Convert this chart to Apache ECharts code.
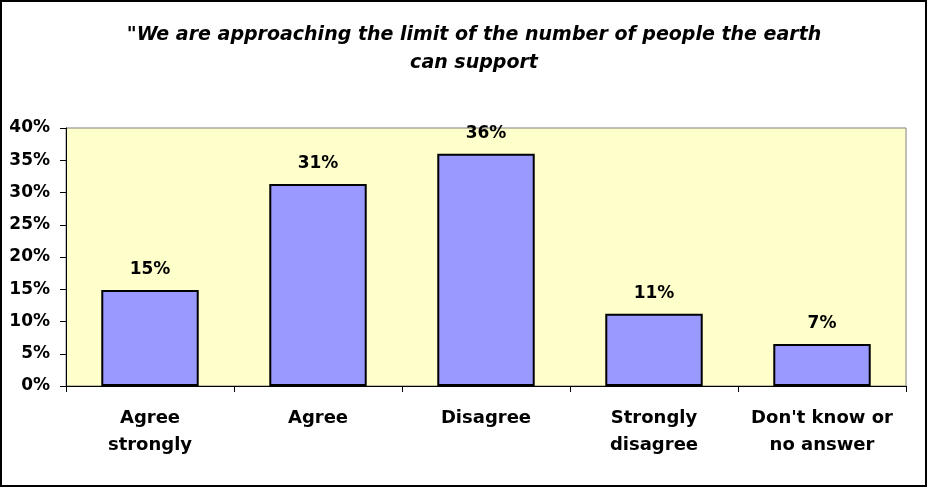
<!DOCTYPE html>
<html>
<head>
<meta charset="utf-8">
<script src="https://cdn.jsdelivr.net/npm/echarts@6/dist/echarts.min.js"></script>
<style>
  html, body { margin: 0; padding: 0; background: #fff; }
  #chart { width: 928px; height: 488px; }
</style>
</head>
<body>
<div id="chart"></div>
<script>
// data
const categories = ['Agree\nstrongly', 'Agree', 'Disagree', 'Strongly\ndisagree', "Don't know or\nno answer"]
const shares = [14.9, 31.3, 36.0, 11.2, 6.5]
const yTicks = [0, 5, 10, 15, 20, 25, 30, 35, 40]
const titleText = '"We are approaching the limit of the number of people the earth\ncan support'

const chart = echarts.init(document.getElementById('chart'))
const font = 'DejaVu Sans'

const option = {
  animation: false,
  backgroundColor: '#fff',
  title: {
    text: titleText,
    left: 469,
    textAlign: 'center',
    top: 16,
    textStyle: {
      fontFamily: font,
      fontSize: 19,
      fontWeight: 'bold',
      fontStyle: 'italic',
      color: '#000',
      lineHeight: 28
    }
  },
  graphic: [
    {
      type: 'rect',
      shape: { x: 1, y: 1, width: 925, height: 485 },
      style: { fill: 'none', stroke: '#000', lineWidth: 2 },
      silent: true
    }
  ],
  grid: {
    show: true,
    left: 66,
    right: 22,
    top: 128,
    bottom: 102,
    backgroundColor: '#FFFFCC',
    borderColor: '#808080',
    borderWidth: 1
  },
  xAxis: {
    type: 'category',
    data: categories,
    axisLine: { show: true, lineStyle: { color: '#000', width: 1 } },
    axisTick: { show: true, alignWithLabel: false, length: 6, lineStyle: { color: '#000' } },
    axisLabel: {
      margin: 19,
      fontFamily: font,
      fontSize: 18,
      fontWeight: 'bold',
      color: '#000',
      lineHeight: 27,
      interval: 0
    },
    splitLine: { show: false }
  },
  yAxis: {
    type: 'value',
    min: yTicks[0],
    max: yTicks[yTicks.length - 1],
    interval: 5,
    axisLine: { show: true, lineStyle: { color: '#000', width: 1 } },
    axisTick: { show: true, inside: false, length: 6, lineStyle: { color: '#000' } },
    axisLabel: {
      margin: 16,
      fontFamily: font,
      fontSize: 17,
      fontWeight: 'bold',
      color: '#000',
      formatter: '{value}%'
    },
    splitLine: { show: false }
  },
  series: [
    {
      type: 'bar',
      data: shares,
      barWidth: '58%',
      itemStyle: {
        color: '#9999FF',
        borderColor: '#000',
        borderWidth: 2
      },
      label: {
        show: true,
        position: 'top',
        distance: 12,
        fontFamily: font,
        fontSize: 17,
        fontWeight: 'bold',
        color: '#000',
        formatter: p => Math.round(p.value) + '%'
      }
    }
  ]
}
chart.setOption(option)
</script>
</body>
</html>
